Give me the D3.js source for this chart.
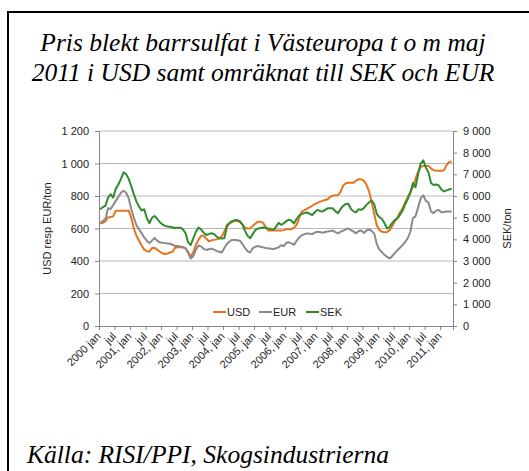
<!DOCTYPE html>
<html>
<head>
<meta charset="utf-8">
<script src="https://cdn.jsdelivr.net/npm/d3@7"></script>
<style>
  body { margin: 0; background: #fff; }
  svg { display: block; }
  .sans { font-family: "Liberation Sans", Arial, Helvetica, "DejaVu Sans", sans-serif; font-size: 11px; fill: #222; }
  .ax text { font-family: "Liberation Sans", Arial, Helvetica, "DejaVu Sans", sans-serif; font-size: 11px; fill: #222; }
  .serif { font-family: "Liberation Serif", "Times New Roman", Times, "DejaVu Serif", serif; font-style: italic; font-size: 25.5px; fill: #000; }
</style>
</head>
<body>
<div id="chart"></div>
<script>
// monthly prices, 2000 jan .. 2011 maj
const usd = [
  630,635,645,670,670,675,710,710,710,710,
  710,710,665,600,555,525,495,470,460,458,
  480,482,470,458,448,443,446,452,458,482,
  484,484,483,478,455,425,455,500,530,555,
  555,538,522,527,530,533,538,552,580,622,
  632,640,648,646,640,625,605,600,601,615,
  630,642,642,635,610,587,587,587,587,587,
  587,590,595,595,595,605,622,665,705,712,
  722,730,740,750,758,765,770,775,780,795,
  802,804,805,825,865,878,882,882,882,895,
  903,903,893,870,830,765,690,620,590,580,
  577,578,590,615,645,668,700,725,760,795,
  825,855,905,950,980,985,985,985,970,958,
  955,955,955,958,990,1010,1012
]
const eur = [
  635,645,660,725,720,745,770,795,820,832,
  820,785,720,665,620,595,570,545,525,510,
  525,542,525,515,512,510,508,506,500,492,
  492,490,487,478,450,415,430,470,495,490,
  475,468,472,476,470,462,457,452,480,505,
  520,530,530,528,525,505,480,460,452,478,
  488,492,488,484,480,478,476,474,478,484,
  497,492,512,515,508,500,525,545,558,565,
  570,568,566,575,580,578,574,578,581,585,
  587,578,570,580,587,595,600,590,581,570,
  585,588,572,588,594,585,570,505,470,455,
  438,425,416,430,450,466,482,498,518,540,
  580,665,675,730,785,805,770,760,705,695,
  710,714,700,702,704,704,705
]
const sek = [
  5390,5490,5550,5930,6080,5930,6340,6530,6790,7090,
  7010,6790,6450,6080,5740,5510,5330,5390,4990,4740,
  4990,5080,4950,4800,4690,4620,4590,4580,4550,4520,
  4540,4540,4460,4280,3860,3740,4050,4350,4540,4460,
  4310,4200,4240,4280,4250,4130,4050,4040,4050,4580,
  4760,4840,4880,4890,4840,4690,4390,4160,4050,4240,
  4430,4490,4520,4550,4520,4500,4470,4440,4580,4760,
  4670,4740,4840,4910,4860,4730,4950,5100,5180,5210,
  5240,5180,5120,5250,5360,5310,5280,5360,5430,5440,
  5430,5290,5210,5400,5540,5630,5640,5400,5290,5250,
  5390,5360,5440,5590,5700,5790,5630,5180,5030,4940,
  4740,4500,4580,4760,4890,4970,5140,5330,5630,5850,
  6150,6600,6410,7010,7500,7650,7310,7090,6600,6510,
  6530,6490,6300,6210,6260,6300,6340
]
const xLabels = ["2000 jan","jul","2001, jan","jul","2002, jan","jul","2003, jan","jul",
  "2004, jan","jul","2005, jan","jul","2006, jan","jul","2007, jan","jul","2008, jan","jul",
  "2009, jan","jul","2010, jan","jul","2011, jan"]
const leftTicks = [0,200,400,600,800,1000,1200]
const rightTicks = [0,1000,2000,3000,4000,5000,6000,7000,8000,9000]
const seriesNames = ["USD","EUR","SEK"]
const colors = ["#E8731F","#8A8A8A","#2F8C2C"]

const W = 529, H = 471
const plotL = 99, plotR = 453, plotT = 131, plotB = 326

const svg = d3.select("#chart").append("svg")
  .attr("width", W).attr("height", H)

// frame
svg.append("rect")
  .attr("x", 8).attr("y", 12).attr("width", 560).attr("height", 500)
  .attr("fill", "none").attr("stroke", "#000").attr("stroke-width", 2)

// title
const title = svg.append("text").attr("class", "serif")
  .attr("text-anchor", "middle")
title.append("tspan").attr("x", 263).attr("y", 51).text("Pris blekt barrsulfat i Västeuropa t o m maj")
title.append("tspan").attr("x", 263).attr("y", 81).text("2011 i USD samt omräknat till SEK och EUR")

svg.append("text").attr("class", "serif")
  .attr("x", 27).attr("y", 463)
  .text("Källa: RISI/PPI, Skogsindustrierna")

const x = d3.scaleLinear().domain([-0.5, usd.length - 0.5]).range([plotL, plotR])
const yL = d3.scaleLinear().domain([0, 1200]).range([plotB, plotT])
const yR = d3.scaleLinear().domain([0, 9000]).range([plotB, plotT])
const fmt = d => d3.format(",")(d).replace(/,/g, " ")

// grid
svg.append("g").selectAll("line")
  .data(leftTicks.filter(d => d > 0))
  .join("line")
  .attr("x1", plotL).attr("x2", plotR)
  .attr("y1", d => yL(d)).attr("y2", d => yL(d))
  .attr("stroke", "#b9b9b9").attr("stroke-width", 1)

// axes
const gl = svg.append("g").attr("class", "ax")
  .attr("transform", "translate(" + plotL + ",0)")
  .call(d3.axisLeft(yL).tickValues(leftTicks).tickSize(4).tickPadding(6).tickFormat(fmt))
const gr = svg.append("g").attr("class", "ax")
  .attr("transform", "translate(" + plotR + ",0)")
  .call(d3.axisRight(yR).tickValues(rightTicks).tickSize(4).tickPadding(6).tickFormat(fmt))
const tickPos = xLabels.map((d, i) => i * 6 - 0.5)
const gb = svg.append("g").attr("class", "ax")
  .attr("transform", "translate(0," + plotB + ")")
  .call(d3.axisBottom(x).tickValues(tickPos).tickSize(4).tickFormat(""))
;[gl, gr, gb].forEach(g => {
  g.attr("font-family", null).attr("font-size", null)
  g.select(".domain").attr("stroke", "#868686")
  g.selectAll(".tick line").attr("stroke", "#868686")
})

// x labels, rotated
svg.append("g").attr("class", "ax").selectAll("text")
  .data(xLabels)
  .join("text")
  .attr("text-anchor", "end")
  .attr("transform", (d, i) => "translate(" + (x(i * 6) + 1) + "," + (plotB + 11) + ") rotate(-45)")
  .text(d => d)

// axis titles
svg.append("text").attr("class", "sans")
  .attr("transform", "translate(51," + (plotT + plotB) / 2 + ") rotate(-90)")
  .attr("text-anchor", "middle")
  .text("USD resp EUR/ton")
svg.append("text").attr("class", "sans")
  .attr("transform", "translate(511," + (plotT + plotB) / 2 + ") rotate(-90)")
  .attr("text-anchor", "middle")
  .text("SEK/ton")

// lines
const lineL = d3.line().x((d, i) => x(i)).y(d => yL(d))
const lineR = d3.line().x((d, i) => x(i)).y(d => yR(d))
const paths = [[usd, lineL], [eur, lineL], [sek, lineR]]
svg.append("g").selectAll("path")
  .data(paths)
  .join("path")
  .attr("d", d => d[1](d[0]))
  .attr("fill", "none")
  .attr("stroke", (d, i) => colors[i])
  .attr("stroke-width", 2)
  .attr("stroke-linejoin", "round")

// legend
const legX = [213, 259, 306]
const leg = svg.append("g").selectAll("g")
  .data(seriesNames)
  .join("g")
  .attr("transform", (d, i) => "translate(" + legX[i] + ",312)")
leg.append("line").attr("x1", 0).attr("x2", 13)
  .attr("stroke", (d, i) => colors[i]).attr("stroke-width", 2)
leg.append("text").attr("class", "sans").attr("x", 14).attr("dy", "0.35em")
  .text(d => d)
</script>
</body>
</html>
